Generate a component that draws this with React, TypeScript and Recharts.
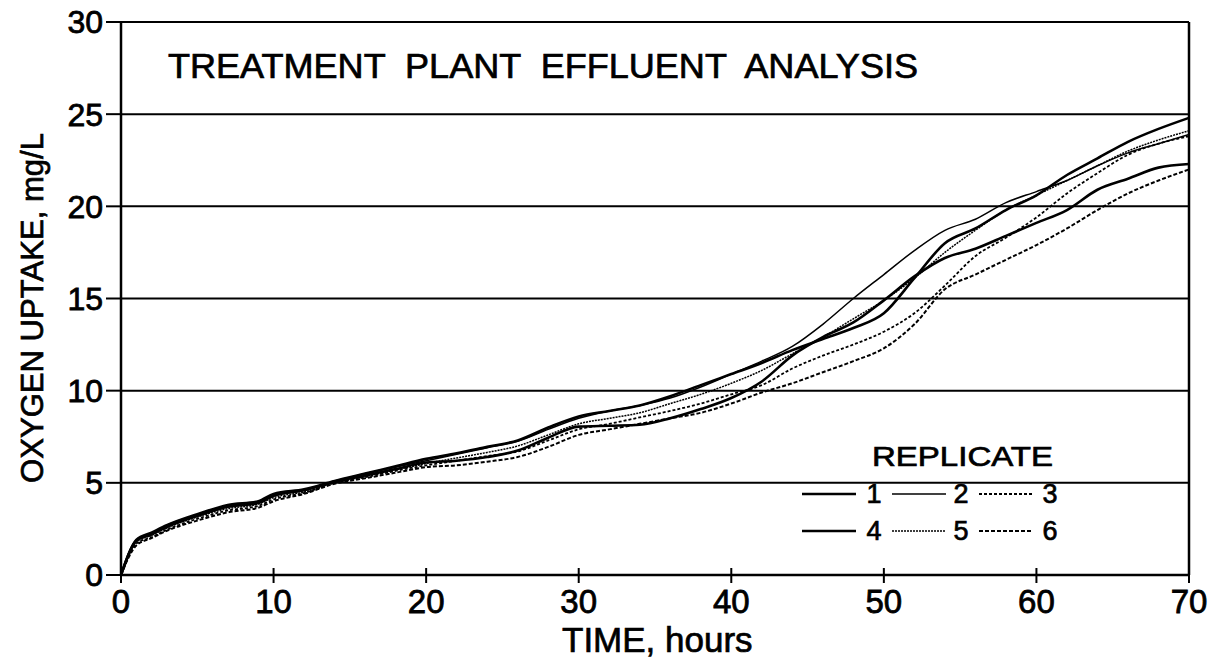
import { LineChart, Line, XAxis, YAxis, CartesianGrid, ReferenceLine, Customized } from 'recharts';

const hours = [0, 1, 2, 3, 5, 7, 9, 10, 12, 14, 16, 18, 20, 22, 24, 26, 28, 30, 32, 34, 36, 38, 40, 42, 44, 46, 48, 50, 52, 54, 56, 58, 60, 62, 64, 66, 68, 70];

const rep1 = [0, 1.9, 2.3, 2.7, 3.3, 3.8, 4.0, 4.4, 4.65, 5.1, 5.5, 5.9, 6.3, 6.6, 6.95, 7.3, 8.0, 8.6, 8.9, 9.2, 9.7, 10.3, 10.9, 11.5, 12.2, 12.8, 13.4, 14.2, 16.1, 18.0, 18.8, 19.8, 20.6, 21.7, 22.6, 23.5, 24.2, 24.8];
const rep2 = [0, 1.9, 2.25, 2.7, 3.25, 3.7, 3.95, 4.3, 4.6, 5.1, 5.5, 5.85, 6.2, 6.55, 6.9, 7.25, 7.9, 8.5, 8.9, 9.2, 9.6, 10.2, 10.9, 11.6, 12.4, 13.6, 15.0, 16.3, 17.6, 18.7, 19.3, 20.2, 20.8, 21.4, 22.2, 22.9, 23.4, 23.9];
const rep3 = [0, 1.7, 2.05, 2.45, 3.05, 3.5, 3.75, 4.1, 4.45, 5.0, 5.3, 5.65, 5.95, 6.2, 6.45, 6.7, 7.3, 7.9, 8.2, 8.55, 8.9, 9.3, 9.8, 10.3, 11.2, 11.9, 12.5, 13.2, 14.2, 15.7, 17.3, 18.3, 19.4, 20.7, 21.8, 22.8, 23.4, 23.8];
const rep4 = [0, 1.85, 2.2, 2.6, 3.2, 3.7, 3.9, 4.3, 4.6, 5.05, 5.4, 5.75, 6.1, 6.2, 6.4, 6.75, 7.45, 8.05, 8.1, 8.15, 8.5, 9.0, 9.6, 10.5, 11.9, 12.9, 13.7, 14.9, 16.2, 17.2, 17.7, 18.4, 19.1, 19.8, 20.9, 21.5, 22.1, 22.3];
const rep5 = [0, 1.8, 2.15, 2.55, 3.15, 3.6, 3.85, 4.2, 4.5, 5.0, 5.35, 5.7, 6.05, 6.35, 6.65, 7.0, 7.6, 8.2, 8.5, 8.8, 9.3, 9.8, 10.4, 11.1, 12.0, 12.9, 13.9, 14.9, 16.1, 17.5, 18.7, 19.8, 20.6, 21.4, 22.2, 23.0, 23.6, 24.1];
const rep6 = [0, 1.6, 2.0, 2.4, 2.95, 3.4, 3.65, 4.0, 4.4, 4.95, 5.25, 5.55, 5.85, 5.95, 6.15, 6.4, 6.95, 7.6, 7.9, 8.2, 8.5, 8.8, 9.3, 9.9, 10.4, 11.0, 11.6, 12.3, 13.6, 15.5, 16.3, 17.1, 17.9, 18.8, 19.8, 20.7, 21.4, 22.0];

const xTicks = [0, 10, 20, 30, 40, 50, 60, 70];
const yTicks = [0, 5, 10, 15, 20, 25, 30];

const chartData = hours.map((t, i) => ({
    t,
    r1: rep1[i],
    r2: rep2[i],
    r3: rep3[i],
    r4: rep4[i],
    r5: rep5[i],
    r6: rep6[i],
}));

const FONT = '"Liberation Sans", Arial, Helvetica, sans-serif';
const PLOT_BOTTOM = 575;

// line looks per replicate (legend order)
const series = [
    { key: 'r1', label: '1', width: 2.6, dash: undefined },
    { key: 'r2', label: '2', width: 1.5, dash: undefined },
    { key: 'r3', label: '3', width: 1.8, dash: '3 2' },
    { key: 'r4', label: '4', width: 2.6, dash: undefined },
    { key: 'r5', label: '5', width: 1.5, dash: '2 1' },
    { key: 'r6', label: '6', width: 2, dash: '4 2' },
];

function XTick(props: any) {
    const { x, payload } = props;
    return (
        <g>
            <line x1={x} y1={PLOT_BOTTOM - 7} x2={x} y2={PLOT_BOTTOM + 8} stroke="#000" strokeWidth={2} />
            <text
                x={x}
                y={PLOT_BOTTOM + 38}
                textAnchor="middle"
                fontSize={33}
                fontFamily={FONT}
                fill="#000"
                stroke="#000"
                strokeWidth={0.8}
            >
                {payload.value}
            </text>
        </g>
    );
}

function Overlay() {
    const txt = { fontFamily: FONT, fill: '#000', stroke: '#000', strokeWidth: 0.7 };
    const rows = [
        { y: 503, items: series.slice(0, 3) },
        { y: 540, items: series.slice(3) },
    ];
    const segX = [[802, 856], [892, 946], [979, 1033]];
    const numX = [874, 961, 1050];
    return (
        <g>
            <text x={168} y={78} fontSize={35} textLength={750} lengthAdjust="spacingAndGlyphs" style={{ whiteSpace: 'pre' }} {...txt}>
                TREATMENT  PLANT  EFFLUENT  ANALYSIS
            </text>
            <text
                x={32}
                y={308}
                fontSize={31}
                textAnchor="middle"
                dominantBaseline="central"
                transform="rotate(-90, 32, 308)"
                textLength={350}
                lengthAdjust="spacingAndGlyphs"
                {...txt}
            >
                OXYGEN UPTAKE, mg/L
            </text>
            <text x={562} y={652} fontSize={35} {...txt}>
                TIME, hours
            </text>
            <text x={872} y={466} fontSize={28} textLength={181} lengthAdjust="spacingAndGlyphs" {...txt}>
                REPLICATE
            </text>
            {rows.map((row) =>
                row.items.map((s, i) => (
                    <g key={s.key}>
                        <line
                            x1={segX[i][0]}
                            x2={segX[i][1]}
                            y1={row.y - 9}
                            y2={row.y - 9}
                            stroke="#000"
                            strokeWidth={s.width}
                            strokeDasharray={s.dash}
                        />
                        <text x={numX[i]} y={row.y} fontSize={27} textAnchor="middle" {...txt}>
                            {s.label}
                        </text>
                    </g>
                ))
            )}
        </g>
    );
}

export default function App() {
    return (
        <div style={{ position: 'absolute', left: 0, top: 0, width: 1215, height: 661, background: '#fff' }}>
            <LineChart width={1215} height={661} data={chartData} margin={{ top: 22, right: 26, bottom: 0, left: 0 }}>
                <CartesianGrid vertical={false} stroke="#000" strokeWidth={2} />
                <XAxis
                    dataKey="t"
                    type="number"
                    domain={[0, 70]}
                    ticks={xTicks}
                    height={86}
                    tickSize={0}
                    tickMargin={0}
                    tickLine={false}
                    axisLine={{ stroke: '#000', strokeWidth: 2.5 }}
                    tick={<XTick />}
                    interval={0}
                />
                <YAxis
                    type="number"
                    domain={[0, 30]}
                    ticks={yTicks}
                    width={121}
                    tickSize={15}
                    tickMargin={3}
                    axisLine={{ stroke: '#000', strokeWidth: 2.5 }}
                    tickLine={{ stroke: '#000', strokeWidth: 2 }}
                    tick={{ fill: '#000', fontSize: 32, fontFamily: FONT, stroke: '#000', strokeWidth: 0.8 }}
                    interval={0}
                />
                <ReferenceLine x={70} stroke="#000" strokeWidth={2.5} />
                {series.map((s) => (
                    <Line
                        key={s.key}
                        type="monotone"
                        dataKey={s.key}
                        stroke="#000"
                        strokeWidth={s.width}
                        strokeDasharray={s.dash}
                        dot={false}
                        isAnimationActive={false}
                    />
                ))}
                <Customized component={<Overlay />} />
            </LineChart>
        </div>
    );
}
